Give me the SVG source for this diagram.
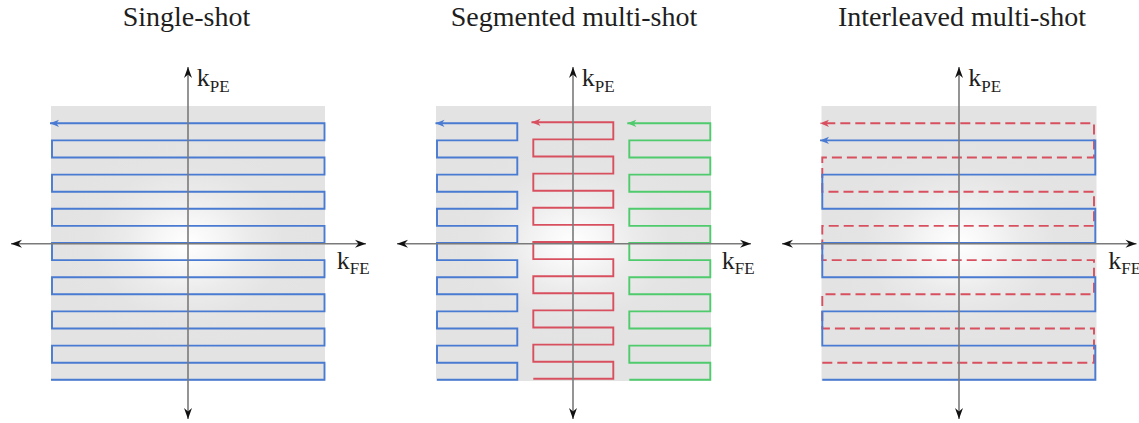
<svg xmlns="http://www.w3.org/2000/svg" width="1139" height="423" viewBox="0 0 1139 423">
  <style>
    .title { font-family: "Liberation Serif", "Times New Roman", serif; font-size: 28px; fill: #1e1e1e; text-anchor: middle; }
    .axlabel { font-family: "Liberation Serif", "Times New Roman", serif; font-size: 26px; fill: #1e1e1e; }
    .sub { font-size: 17px; }
    .kspace { fill: url(#glow); }
    .axis { fill: none; stroke: #7a7a7a; stroke-width: 1.6; marker-start: url(#axhead); marker-end: url(#axhead); }
    .traj { fill: none; stroke-width: 1.9; stroke-linejoin: miter; }
    .blue { stroke: #4a7bd2; marker-end: url(#head-blue); }
    .red { stroke: #d8505f; marker-end: url(#head-red); }
    .green { stroke: #4fca6c; marker-end: url(#head-green); }
    .dashed { stroke-dasharray: 10 5; }
  </style>
  <defs>
    <radialGradient id="glow" cx="0.5" cy="0.5" r="0.5" gradientTransform="translate(0.5,0.5) scale(1,0.8) translate(-0.5,-0.5)">
      <stop offset="0" stop-color="#ffffff"/>
      <stop offset="0.2" stop-color="#f7f7f7"/>
      <stop offset="0.45" stop-color="#ebebeb"/>
      <stop offset="0.7" stop-color="#e4e4e4"/>
      <stop offset="1" stop-color="#e3e3e3"/>
    </radialGradient>
    <marker id="axhead" viewBox="-12 -5 13 10" refX="0" refY="0" markerWidth="13" markerHeight="10" markerUnits="userSpaceOnUse" orient="auto-start-reverse">
      <path d="M0,0 L-11,-4 L-7.5,0 L-11,4 Z" fill="#111"/>
    </marker>
    <marker id="head-blue" viewBox="-10 -5 11 10" refX="0" refY="0" markerWidth="11" markerHeight="10" markerUnits="userSpaceOnUse" orient="auto">
      <path d="M0,0 L-9,-3.6 L-6.5,0 L-9,3.6 Z" fill="#4a7bd2"/>
    </marker>
    <marker id="head-red" viewBox="-10 -5 11 10" refX="0" refY="0" markerWidth="11" markerHeight="10" markerUnits="userSpaceOnUse" orient="auto">
      <path d="M0,0 L-9,-3.6 L-6.5,0 L-9,3.6 Z" fill="#d8505f"/>
    </marker>
    <marker id="head-green" viewBox="-10 -5 11 10" refX="0" refY="0" markerWidth="11" markerHeight="10" markerUnits="userSpaceOnUse" orient="auto">
      <path d="M0,0 L-9,-3.6 L-6.5,0 L-9,3.6 Z" fill="#4fca6c"/>
    </marker>
  </defs>

  <!-- Single-shot EPI: one raster covering all 16 lines -->
  <g id="single-shot">
    <text class="title" x="186.5" y="26">Single-shot</text>
    <rect class="kspace" x="51" y="106" width="274" height="275"/>
    <path class="traj blue" d="M51,379.8 H324.5 V362.7 H52 V345.6 H324.5 V328.5 H52 V311.4 H324.5 V294.3 H52 V277.2 H324.5 V260.1 H52 V243 H324.5 V225.9 H52 V208.8 H324.5 V191.7 H52 V174.6 H324.5 V157.5 H52 V140.4 H324.5 V123.3 H50"/>
  </g>

  <!-- Segmented multi-shot: three readout segments side by side -->
  <g id="segmented-multi-shot">
    <text class="title" x="574" y="26">Segmented multi-shot</text>
    <rect class="kspace" x="436" y="106" width="275" height="275"/>
    <path class="traj blue" d="M437,379.8 H517.3 V362.7 H437 V345.6 H517.3 V328.5 H437 V311.4 H517.3 V294.3 H437 V277.2 H517.3 V260.1 H437 V243 H517.3 V225.9 H437 V208.8 H517.3 V191.7 H437 V174.6 H517.3 V157.5 H437 V140.4 H517.3 V123.3 H435.5"/>
    <path class="traj red" d="M533.3,378.8 H613.3 V361.7 H533.3 V344.6 H613.3 V327.5 H533.3 V310.4 H613.3 V293.3 H533.3 V276.2 H613.3 V259.1 H533.3 V242 H613.3 V224.9 H533.3 V207.8 H613.3 V190.7 H533.3 V173.6 H613.3 V156.5 H533.3 V139.4 H613.3 V122.3 H531.5"/>
    <path class="traj green" d="M629.3,379.8 H710.3 V362.7 H629.3 V345.6 H710.3 V328.5 H629.3 V311.4 H710.3 V294.3 H629.3 V277.2 H710.3 V260.1 H629.3 V243 H710.3 V225.9 H629.3 V208.8 H710.3 V191.7 H629.3 V174.6 H710.3 V157.5 H629.3 V140.4 H710.3 V123.3 H627.3"/>
  </g>

  <!-- Interleaved multi-shot: two shots on alternating lines -->
  <g id="interleaved-multi-shot">
    <text class="title" x="962" y="26">Interleaved multi-shot</text>
    <rect class="kspace" x="821.5" y="106" width="275" height="275"/>
    <path class="traj red dashed" d="M822.3,362.7 H1094 V328.5 H822.3 V294.3 H1094 V260.1 H822.3 V225.9 H1094 V191.7 H822.3 V157.5 H1094 V123.3 H820"/>
    <path class="traj blue" d="M822.3,379.8 H1095.3 V345.6 H822.3 V311.4 H1095.3 V277.2 H822.3 V243 H1095.3 V208.8 H822.3 V174.6 H1095.3 V140.4 H820"/>
  </g>

  <!-- k-space axes -->
  <g id="axes">
    <path class="axis" d="M11,243.7 H366"/>
    <path class="axis" d="M188,67 V419"/>
    <path class="axis" d="M397,243.7 H751"/>
    <path class="axis" d="M573,67 V419"/>
    <path class="axis" d="M782,243.7 H1136.5"/>
    <path class="axis" d="M959,67 V419"/>
  </g>

  <!-- axis labels -->
  <g id="axis-labels">
    <text class="axlabel" x="196.7" y="86">k<tspan class="sub" dy="5.7">PE</tspan></text>
    <text class="axlabel" x="336.7" y="269.3">k<tspan class="sub" dy="5">FE</tspan></text>
    <text class="axlabel" x="581.7" y="86">k<tspan class="sub" dy="5.7">PE</tspan></text>
    <text class="axlabel" x="721.7" y="269.3">k<tspan class="sub" dy="5">FE</tspan></text>
    <text class="axlabel" x="968.3" y="86">k<tspan class="sub" dy="5.7">PE</tspan></text>
    <text class="axlabel" x="1108.3" y="269.3">k<tspan class="sub" dy="5">FE</tspan></text>
  </g>
</svg>
